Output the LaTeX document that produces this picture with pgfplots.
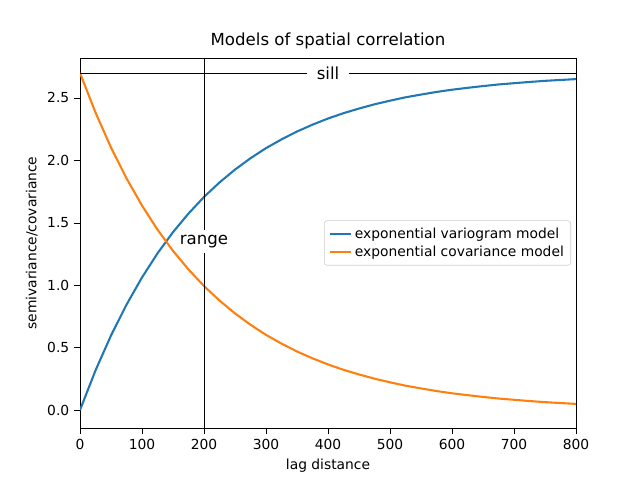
\documentclass[border=0pt]{standalone}
\usepackage{pgfplots}
\pgfplotsset{compat=1.18}
\usepackage{fontspec}
\setmainfont{DejaVu Sans}
\definecolor{mplblue}{HTML}{1F77B4}
\definecolor{mplorange}{HTML}{FF7F0E}
\begin{document}
\begin{tikzpicture}
\begin{axis}[
  name=ax, scale only axis, width=4.96in, height=3.70in,
  xmin=0, xmax=800, ymin=-0.144, ymax=2.82,
  xtick={0,100,...,800}, ytick={0,0.5,...,2.5},
  yticklabel style={/pgf/number format/.cd,fixed,fixed zerofill,precision=1},
  /pgf/number format/assume math mode=true,
  tick style={black}, tick align=outside, xtick pos=bottom, ytick pos=left,
  ticklabel style={font=\fontsize{10}{12}\selectfont},
  label style={font=\fontsize{10}{12}\selectfont},
  title style={font=\fontsize{12}{14}\selectfont, yshift=-3pt},
  title={Models of spatial correlation},
  xlabel={lag distance}, ylabel={semivariance/covariance},
  legend style={at={(0.99,0.5)}, anchor=east, font=\fontsize{10}{12}\selectfont, draw=black!20, rounded corners=2pt, inner sep=3pt},
  legend image post style={line width=1.5pt},
  legend image code/.code={\draw[#1] (0cm,0cm) -- (0.55cm,0cm);},
  legend cell align=left,
]
\addplot[mplblue, line width=1.5pt] coordinates {(0,0)(25,0.317)(50,0.597)(75,0.844)(100,1.062)(125,1.255)(150,1.425)(175,1.574)(200,1.707)(225,1.823)(250,1.926)(275,2.017)(300,2.098)(325,2.168)(350,2.231)(375,2.286)(400,2.335)(425,2.378)(450,2.415)(475,2.449)(500,2.478)(525,2.505)(550,2.527)(575,2.548)(600,2.566)(625,2.581)(650,2.595)(675,2.608)(700,2.618)(725,2.628)(750,2.637)(775,2.644)(800,2.651)};
\addlegendentry{exponential variogram model}
\addplot[mplorange, line width=1.5pt] coordinates {(0,2.700)(25,2.383)(50,2.103)(75,1.856)(100,1.638)(125,1.445)(150,1.275)(175,1.126)(200,0.993)(225,0.877)(250,0.774)(275,0.683)(300,0.602)(325,0.532)(350,0.469)(375,0.414)(400,0.365)(425,0.322)(450,0.285)(475,0.251)(500,0.222)(525,0.195)(550,0.173)(575,0.152)(600,0.134)(625,0.119)(650,0.105)(675,0.092)(700,0.082)(725,0.072)(750,0.063)(775,0.056)(800,0.049)};
\addlegendentry{exponential covariance model}
\addplot[black, forget plot] coordinates {(0,2.7)(800,2.7)};
\addplot[black, forget plot] coordinates {(200,-0.144)(200,2.82)};
\node[fill=white, font=\fontsize{12}{14}\selectfont, inner xsep=7pt, inner ysep=2pt] at (axis cs:400,2.7) {sill};
\node[fill=white, font=\fontsize{12}{14}\selectfont, inner xsep=3pt, inner ysep=4pt] at (axis cs:200,1.35) {range};
\end{axis}
\useasboundingbox ([shift={(-0.8in,-0.52in)}]ax.south west) rectangle ([shift={(0.64in,0.58in)}]ax.north east);
\end{tikzpicture}
\end{document}
